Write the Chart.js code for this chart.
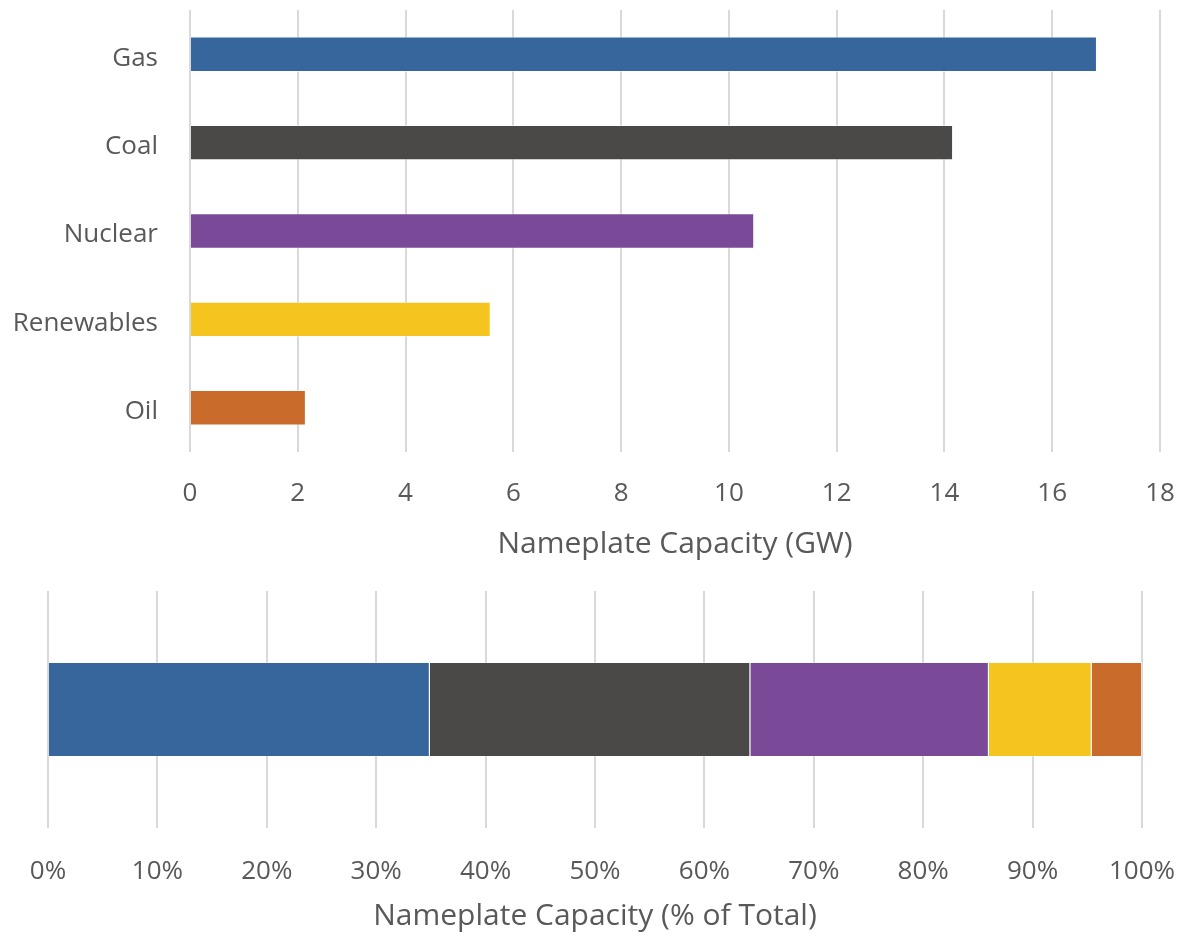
<!DOCTYPE html>
<html>
<head>
<meta charset="utf-8">
<script src="https://cdn.jsdelivr.net/npm/chart.js@4/dist/chart.umd.min.js"></script>
<style>
  html, body { margin: 0; padding: 0; background: #fff; overflow: hidden; }
  #wrap { position: relative; width: 1184px; height: 939px; }
  #capacityBox { position: absolute; left: 0; top: 0; width: 1184px; height: 575px; }
  #shareBox { position: absolute; left: 0; top: 575px; width: 1184px; height: 364px; }
</style>
</head>
<body>
<div id="wrap">
  <div id="capacityBox"><canvas id="capacityChart"></canvas></div>
  <div id="shareBox"><canvas id="shareChart"></canvas></div>
</div>
<script>
// fuel types and their nameplate capacity
const categories = ['Gas', 'Coal', 'Nuclear', 'Renewables', 'Oil'];
const capacityGW = [16.83, 14.16, 10.47, 5.58, 2.15];
const shareOfTotal = [34.9, 29.3, 21.8, 9.4, 4.6];

const gwTicks = { min: 0, max: 18, step: 2 };
const pctTicks = { min: 0, max: 100, step: 10 };

const fuelColors = ['#36669c', '#4a4948', '#7a4998', '#f6c41f', '#c96b2a'];
const textGray = '#595959';
const gridGray = '#d9d9d9';
const fontFamily = '"Open Sans", "Noto Sans", sans-serif';

Chart.defaults.font.family = fontFamily;
Chart.defaults.color = textGray;
Chart.defaults.animation = false;

// keep the layout from reserving room for overhanging tick labels
function noEdgePadding(scale) {
  scale.paddingLeft = 0;
  scale.paddingRight = 0;
  scale.paddingTop = 0;
  scale.paddingBottom = 0;
}

document.addEventListener("DOMContentLoaded", function () {
  drawCapacityChart();
  drawShareChart();
});

function drawCapacityChart() {
  const ctx = document.getElementById('capacityChart').getContext('2d');
  new Chart(ctx, {
    type: 'bar',
    data: {
      labels: categories,
      datasets: [{
        data: capacityGW,
        backgroundColor: fuelColors,
        borderColor: 'rgba(255,255,255,0.5)',
        borderWidth: 1,
        categoryPercentage: 1,
        barPercentage: 0.4
      }]
    },
    options: {
      indexAxis: 'y',
      responsive: true,
      maintainAspectRatio: false,
      layout: { padding: { top: 10, right: 24, bottom: 13, left: 0 } },
      plugins: { legend: { display: false }, tooltip: { enabled: false } },
      scales: {
        x: {
          min: gwTicks.min,
          max: gwTicks.max,
          ticks: { stepSize: gwTicks.step, padding: 26, font: { size: 26 }, color: textGray },
          grid: { color: gridGray, lineWidth: 2, drawTicks: false },
          border: { display: false },
          title: {
            display: true,
            text: 'Nameplate Capacity (GW)',
            font: { size: 30 },
            color: textGray,
            padding: { top: 0, bottom: 0 }
          },
          afterFit: function (scale) {
            noEdgePadding(scale);
            scale.height = 110;
          }
        },
        y: {
          ticks: { padding: 32, labelOffset: 4, font: { size: 26 }, color: textGray },
          grid: { display: false, drawTicks: false },
          border: { display: false },
          afterFit: function (scale) {
            noEdgePadding(scale);
            scale.width = 190;
          }
        }
      }
    }
  });
}

function drawShareChart() {
  const ctx = document.getElementById('shareChart').getContext('2d');
  const datasets = categories.map((name, i) => ({
    label: name,
    data: [shareOfTotal[i]],
    backgroundColor: fuelColors[i],
    borderColor: 'rgba(255,255,255,0.35)',
    borderWidth: 1,
    categoryPercentage: 1,
    barPercentage: 0.4
  }));

  new Chart(ctx, {
    type: 'bar',
    data: { labels: [''], datasets: datasets },
    options: {
      indexAxis: 'y',
      responsive: true,
      maintainAspectRatio: false,
      layout: { padding: { top: 16, right: 42, bottom: 5, left: 48 } },
      plugins: { legend: { display: false }, tooltip: { enabled: false } },
      scales: {
        x: {
          stacked: true,
          min: pctTicks.min,
          max: pctTicks.max,
          ticks: {
            stepSize: pctTicks.step,
            padding: 28,
            font: { size: 26 },
            color: textGray,
            callback: v => v + '%'
          },
          grid: { color: gridGray, lineWidth: 2, drawTicks: false },
          border: { display: false },
          title: {
            display: true,
            text: 'Nameplate Capacity (% of Total)',
            font: { size: 30 },
            color: textGray,
            padding: { top: 0, bottom: 0 }
          },
          afterFit: function (scale) {
            noEdgePadding(scale);
            scale.height = 106;
          }
        },
        y: {
          stacked: true,
          display: false
        }
      }
    }
  });
}
</script>
</body>
</html>
